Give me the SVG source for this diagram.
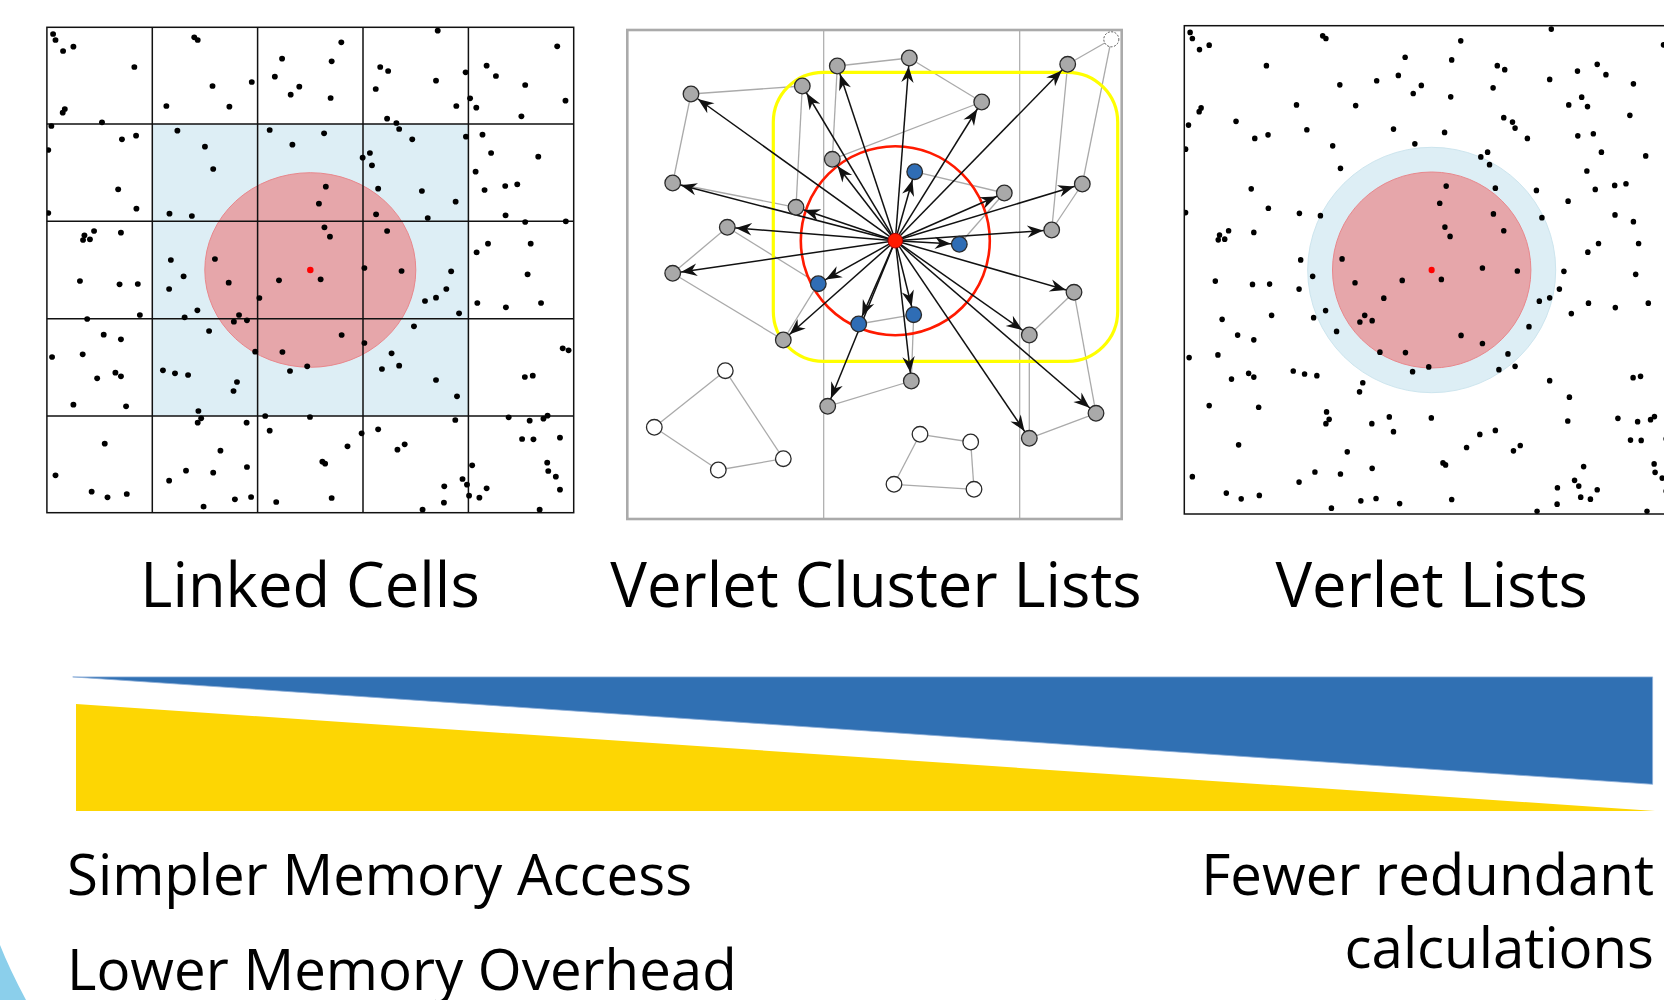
<svg xmlns="http://www.w3.org/2000/svg" width="1664" height="1000" viewBox="0 0 1664 1000">
<style>
.t{font-family:"Open Sans","Noto Sans","DejaVu Sans",sans-serif;fill:#000}
.title{font-size:61.5px;text-anchor:middle}
.lbl{font-size:56.4px}
.grid{stroke:#111;stroke-width:1.5;fill:none}
.nd{stroke:#2a2a2a;stroke-width:1.3}
.g{fill:#a9a9a9}
.b{fill:#2f6db5}
.w{fill:#fff}
.ed{stroke:#aaa;stroke-width:1.3;fill:none}
.ar{stroke:#111;stroke-width:1.5;marker-end:url(#ah)}
#particles circle{r:8.5px}
</style>
<defs>
<marker id="ah" viewBox="-18 -8 20 16" markerWidth="20" markerHeight="16" refX="8.5" refY="0" orient="auto" markerUnits="userSpaceOnUse">
<path d="M0,0 L-16,-6.2 L-11,0 L-16,6.2 Z" fill="#111"/>
</marker>
<clipPath id="c1"><rect x="46.9" y="27.3" width="526.8" height="485.4"/></clipPath>
<clipPath id="c3"><rect x="1184.3" y="25.7" width="480" height="488.3"/></clipPath>
<g id="particles" fill="#000">
<circle cx="38" cy="42" r="8.5"/><circle cx="45" cy="60" r="8.5"/><circle cx="67" cy="93" r="8.5"/><circle cx="97" cy="80" r="8.5"/><circle cx="274" cy="141" r="8.5"/><circle cx="72" cy="267" r="8.5"/><circle cx="66" cy="278" r="8.5"/><circle cx="180" cy="307" r="8.5"/>
<circle cx="448" cy="52" r="8.5"/><circle cx="458" cy="60" r="8.5"/><circle cx="501" cy="198" r="8.5"/><circle cx="615" cy="186" r="8.5"/><circle cx="367" cy="258" r="8.5"/><circle cx="550" cy="260" r="8.5"/>
<circle cx="875" cy="67" r="8.5"/><circle cx="703" cy="116" r="8.5"/><circle cx="847" cy="124" r="8.5"/><circle cx="682" cy="170" r="8.5"/><circle cx="753" cy="200" r="8.5"/><circle cx="728" cy="224" r="8.5"/><circle cx="844" cy="234" r="8.5"/>
<circle cx="1155" cy="32" r="8.5"/><circle cx="988" cy="141" r="8.5"/><circle cx="1011" cy="153" r="8.5"/><circle cx="1150" cy="182" r="8.5"/><circle cx="975" cy="207" r="8.5"/><circle cx="1209" cy="258" r="8.5"/><circle cx="1008" cy="296" r="8.5"/><circle cx="1035" cy="309" r="8.5"/>
<circle cx="1502" cy="79" r="8.5"/><circle cx="1297" cy="137" r="8.5"/><circle cx="1324" cy="168" r="8.5"/><circle cx="1236" cy="157" r="8.5"/><circle cx="1409" cy="195" r="8.5"/><circle cx="1526" cy="242" r="8.5"/><circle cx="1249" cy="235" r="8.5"/><circle cx="1267" cy="263" r="8.5"/><circle cx="1398" cy="289" r="8.5"/>
<circle cx="33" cy="318" r="8.5"/><circle cx="24" cy="390" r="8.5"/><circle cx="238" cy="358" r="8.5"/><circle cx="279" cy="347" r="8.5"/><circle cx="227" cy="508" r="8.5"/><circle cx="280" cy="566" r="8.5"/><circle cx="24" cy="579" r="8.5"/>
<circle cx="399" cy="332" r="8.5"/><circle cx="479" cy="380" r="8.5"/><circle cx="503" cy="447" r="8.5"/><circle cx="376" cy="581" r="8.5"/><circle cx="441" cy="588" r="8.5"/>
<circle cx="667" cy="330" r="8.5"/><circle cx="825" cy="340" r="8.5"/><circle cx="733" cy="374" r="8.5"/><circle cx="830" cy="500" r="8.5"/><circle cx="810" cy="551" r="8.5"/>
<circle cx="1043" cy="327" r="8.5"/><circle cx="1081" cy="358" r="8.5"/><circle cx="958" cy="399" r="8.5"/><circle cx="937" cy="413" r="8.5"/><circle cx="964" cy="436" r="8.5"/><circle cx="982" cy="506" r="8.5"/><circle cx="1109" cy="513" r="8.5"/><circle cx="1207" cy="545" r="8.5"/><circle cx="976" cy="583" r="8.5"/><circle cx="1126" cy="594" r="8.5"/><circle cx="1237" cy="350" r="8.5"/>
<circle cx="1285" cy="344" r="8.5"/><circle cx="1310" cy="399" r="8.5"/><circle cx="1447" cy="410" r="8.5"/><circle cx="1265" cy="455" r="8.5"/><circle cx="1291" cy="510" r="8.5"/><circle cx="1351" cy="498" r="8.5"/><circle cx="1386" cy="493" r="8.5"/><circle cx="1352" cy="586" r="8.5"/><circle cx="1409" cy="606" r="8.5"/><circle cx="1527" cy="604" r="8.5"/>
<circle cx="129" cy="646" r="8.5"/><circle cx="157" cy="633" r="8.5"/><circle cx="125" cy="660" r="8.5"/><circle cx="145" cy="658" r="8.5"/><circle cx="235" cy="638" r="8.5"/><circle cx="116" cy="783" r="8.5"/><circle cx="231" cy="793" r="8.5"/><circle cx="284" cy="792" r="8.5"/><circle cx="290" cy="885" r="8.5"/><circle cx="137" cy="897" r="8.5"/>
<circle cx="380" cy="720" r="8.5"/><circle cx="417" cy="769" r="8.5"/><circle cx="375" cy="807" r="8.5"/><circle cx="457" cy="871" r="8.5"/><circle cx="420" cy="892" r="8.5"/><circle cx="508" cy="717" r="8.5"/><circle cx="548" cy="788" r="8.5"/><circle cx="578" cy="885" r="8.5"/><circle cx="563" cy="905" r="8.5"/><circle cx="601" cy="901" r="8.5"/>
<circle cx="826" cy="622" r="8.5"/><circle cx="842" cy="650" r="8.5"/><circle cx="694" cy="781" r="8.5"/><circle cx="815" cy="778" r="8.5"/><circle cx="637" cy="834" r="8.5"/>
<circle cx="1008" cy="633" r="8.5"/><circle cx="942" cy="744" r="8.5"/><circle cx="1050" cy="753" r="8.5"/><circle cx="1194" cy="754" r="8.5"/><circle cx="1180" cy="807" r="8.5"/><circle cx="1150" cy="833" r="8.5"/><circle cx="1118" cy="843" r="8.5"/><circle cx="1217" cy="880" r="8.5"/>
<circle cx="1301" cy="671" r="8.5"/><circle cx="1425" cy="671" r="8.5"/><circle cx="1268" cy="697" r="8.5"/><circle cx="1416" cy="763" r="8.5"/><circle cx="1270" cy="849" r="8.5"/><circle cx="1353" cy="862" r="8.5"/><circle cx="1455" cy="849" r="8.5"/>
<circle cx="185" cy="944" r="8.5"/><circle cx="235" cy="958" r="8.5"/><circle cx="35" cy="1011" r="8.5"/><circle cx="124" cy="1003" r="8.5"/><circle cx="166" cy="1075" r="8.5"/><circle cx="219" cy="1058" r="8.5"/><circle cx="235" cy="1069" r="8.5"/><circle cx="97" cy="1154" r="8.5"/><circle cx="250" cy="1159" r="8.5"/>
<circle cx="491" cy="933" r="8.5"/><circle cx="357" cy="1051" r="8.5"/><circle cx="392" cy="1060" r="8.5"/><circle cx="430" cy="1065" r="8.5"/><circle cx="572" cy="1086" r="8.5"/><circle cx="562" cy="1113" r="8.5"/><circle cx="460" cy="1173" r="8.5"/>
<circle cx="625" cy="995" r="8.5"/><circle cx="704" cy="996" r="8.5"/><circle cx="876" cy="945" r="8.5"/><circle cx="726" cy="1053" r="8.5"/><circle cx="776" cy="1039" r="8.5"/><circle cx="654" cy="1188" r="8.5"/><circle cx="784" cy="1191" r="8.5"/>
<circle cx="942" cy="969" r="8.5"/><circle cx="1086" cy="919" r="8.5"/><circle cx="1021" cy="1000" r="8.5"/><circle cx="993" cy="1047" r="8.5"/><circle cx="1043" cy="1037" r="8.5"/><circle cx="1150" cy="1080" r="8.5"/><circle cx="1211" cy="1129" r="8.5"/>
<circle cx="1518" cy="985" r="8.5"/><circle cx="1535" cy="991" r="8.5"/><circle cx="1408" cy="1071" r="8.5"/><circle cx="1431" cy="1067" r="8.5"/>
<circle cx="188" cy="1271" r="8.5"/><circle cx="45" cy="1366" r="8.5"/><circle cx="150" cy="1415" r="8.5"/><circle cx="196" cy="1432" r="8.5"/><circle cx="252" cy="1422" r="8.5"/>
<circle cx="468" cy="1195" r="8.5"/><circle cx="458" cy="1208" r="8.5"/><circle cx="600" cy="1208" r="8.5"/><circle cx="524" cy="1292" r="8.5"/><circle cx="424" cy="1352" r="8.5"/><circle cx="503" cy="1358" r="8.5"/><circle cx="601" cy="1341" r="8.5"/><circle cx="375" cy="1382" r="8.5"/><circle cx="475" cy="1460" r="8.5"/><circle cx="566" cy="1438" r="8.5"/><circle cx="613" cy="1431" r="8.5"/>
<circle cx="667" cy="1232" r="8.5"/><circle cx="893" cy="1279" r="8.5"/><circle cx="820" cy="1325" r="8.5"/><circle cx="828" cy="1331" r="8.5"/><circle cx="686" cy="1446" r="8.5"/><circle cx="847" cy="1434" r="8.5"/><circle cx="934" cy="1240" r="8.5"/>
<circle cx="982" cy="1228" r="8.5"/><circle cx="1059" cy="1273" r="8.5"/><circle cx="1038" cy="1289" r="8.5"/><circle cx="1206" cy="1200" r="8.5"/><circle cx="1227" cy="1377" r="8.5"/><circle cx="1174" cy="1399" r="8.5"/><circle cx="1240" cy="1394" r="8.5"/><circle cx="1173" cy="1448" r="8.5"/><circle cx="1246" cy="1427" r="8.5"/><circle cx="1111" cy="1469" r="8.5"/>
<circle cx="1361" cy="1192" r="8.5"/><circle cx="1422" cy="1202" r="8.5"/><circle cx="1462" cy="1196" r="8.5"/><circle cx="1474" cy="1187" r="8.5"/><circle cx="1510" cy="1253" r="8.5"/><circle cx="1400" cy="1257" r="8.5"/><circle cx="1433" cy="1258" r="8.5"/><circle cx="1255" cy="1336" r="8.5"/><circle cx="1473" cy="1328" r="8.5"/><circle cx="1476" cy="1353" r="8.5"/><circle cx="1498" cy="1370" r="8.5"/><circle cx="1510" cy="1409" r="8.5"/><circle cx="1297" cy="1405" r="8.5"/><circle cx="1276" cy="1433" r="8.5"/><circle cx="1451" cy="1469" r="8.5"/>
<circle cx="785" cy="750" r="9.5" fill="#ff0000" style="r:9.5px"/>
</g>
</defs>
<rect width="1664" height="1000" fill="#fff"/>

<!-- Panel 1: Linked Cells -->
<g id="linked-cells">
<rect x="152.3" y="124" width="316.1" height="292" fill="#ddeef5"/>
<ellipse cx="310.3" cy="270" rx="105.5" ry="97.3" fill="#e6a6aa" stroke="#e8878c" stroke-width="1"/>
<g class="grid">
<rect x="46.9" y="27.3" width="526.8" height="485.4"/>
<path d="M152.3,27.3V512.7M257.6,27.3V512.7M363,27.3V512.7M468.4,27.3V512.7M46.9,124H573.7M46.9,221.3H573.7M46.9,318.7H573.7M46.9,416H573.7"/>
</g>
<g clip-path="url(#c1)"><use href="#particles" transform="matrix(0.34435 0 0 0.33333 40 20)"/></g>
</g>

<!-- Panel 3: Verlet Lists -->
<g id="verlet-lists">
<ellipse cx="1431.7" cy="270" rx="124" ry="122.7" fill="#ddeef5" stroke="#cde5ee" stroke-width="1"/>
<ellipse cx="1431.7" cy="270" rx="99.2" ry="98" fill="#e6a6aa" stroke="#e8878c" stroke-width="1"/>
<g clip-path="url(#c3)"><use href="#particles" transform="matrix(0.32335 0 0 0.33553 1177.82 18.35)"/></g>
<rect x="1184.3" y="25.7" width="500" height="488.3" fill="none" stroke="#111" stroke-width="1.5"/>
</g>

<!-- Panel 2: Verlet Cluster Lists -->
<g id="cluster-panel">
<rect x="627.3" y="30" width="494.4" height="489" fill="none" stroke="#aaa" stroke-width="2.6"/>
<path d="M823.7,30V519M1019.7,30V519" stroke="#aaa" stroke-width="1.2" fill="none"/>
</g>
<g id="connectors">
<g id="edges" class="ed">
<line x1="691" y1="94" x2="802.3" y2="86"/>
<line x1="691" y1="94" x2="672.7" y2="183"/>
<line x1="802.3" y1="86" x2="796" y2="207.3"/>
<line x1="672.7" y1="183" x2="796" y2="207.3"/>
<line x1="837.3" y1="66" x2="909.3" y2="58"/>
<line x1="837.3" y1="66" x2="832.3" y2="159.3"/>
<line x1="909.3" y1="58" x2="981.7" y2="102"/>
<line x1="981.7" y1="102" x2="832.3" y2="159.3"/>
<line x1="1067.7" y1="64.3" x2="1111.3" y2="39.3"/>
<line x1="1111.3" y1="39.3" x2="1082.3" y2="184"/>
<line x1="1067.7" y1="64.3" x2="1051.7" y2="230"/>
<line x1="1082.3" y1="184" x2="1051.7" y2="230"/>
<line x1="914.7" y1="171.7" x2="1004.3" y2="193"/>
<line x1="1004.3" y1="193" x2="959.3" y2="244.3"/>
<line x1="727.3" y1="227.3" x2="672.7" y2="273.3"/>
<line x1="727.3" y1="227.3" x2="818.3" y2="283.7"/>
<line x1="672.7" y1="273.3" x2="783.3" y2="340"/>
<line x1="818.3" y1="283.7" x2="783.3" y2="340"/>
<line x1="858.7" y1="324" x2="913.7" y2="314.7"/>
<line x1="913.7" y1="314.7" x2="911.3" y2="381"/>
<line x1="911.3" y1="381" x2="827.7" y2="406.3"/>
<line x1="1074" y1="292.3" x2="1029.3" y2="335"/>
<line x1="1074" y1="292.3" x2="1096" y2="413.3"/>
<line x1="1029.3" y1="335" x2="1029.3" y2="438.3"/>
<line x1="1029.3" y1="438.3" x2="1096" y2="413.3"/>
<line x1="725.3" y1="370.7" x2="654.3" y2="427.3"/>
<line x1="654.3" y1="427.3" x2="718.3" y2="470"/>
<line x1="718.3" y1="470" x2="783.3" y2="458.7"/>
<line x1="783.3" y1="458.7" x2="725.3" y2="370.7"/>
<line x1="920" y1="434.3" x2="970.7" y2="442"/>
<line x1="970.7" y1="442" x2="974" y2="489.3"/>
<line x1="974" y1="489.3" x2="894" y2="484.3"/>
<line x1="894" y1="484.3" x2="920" y2="434.3"/>
</g>
<rect id="cluster-bbox" x="773.3" y="72.3" width="344.4" height="289" rx="50" ry="50" fill="none" stroke="#ffff00" stroke-width="3.2"/>
<circle id="cutoff" cx="895.3" cy="240.7" r="94.5" fill="none" stroke="#ff1a00" stroke-width="2.6"/>
<g id="arrows" class="ar">
<line x1="895.3" y1="240.7" x2="691" y2="94"/>
<line x1="895.3" y1="240.7" x2="802.3" y2="86"/>
<line x1="895.3" y1="240.7" x2="837.3" y2="66"/>
<line x1="895.3" y1="240.7" x2="909.3" y2="58"/>
<line x1="895.3" y1="240.7" x2="981.7" y2="102"/>
<line x1="895.3" y1="240.7" x2="1067.7" y2="64.3"/>
<line x1="895.3" y1="240.7" x2="672.7" y2="183"/>
<line x1="895.3" y1="240.7" x2="796" y2="207.3"/>
<line x1="895.3" y1="240.7" x2="832.3" y2="159.3"/>
<line x1="895.3" y1="240.7" x2="1004.3" y2="193"/>
<line x1="895.3" y1="240.7" x2="1082.3" y2="184"/>
<line x1="895.3" y1="240.7" x2="727.3" y2="227.3"/>
<line x1="895.3" y1="240.7" x2="1051.7" y2="230"/>
<line x1="895.3" y1="240.7" x2="672.7" y2="273.3"/>
<line x1="895.3" y1="240.7" x2="1074" y2="292.3"/>
<line x1="895.3" y1="240.7" x2="783.3" y2="340"/>
<line x1="895.3" y1="240.7" x2="1029.3" y2="335"/>
<line x1="895.3" y1="240.7" x2="911.3" y2="381"/>
<line x1="895.3" y1="240.7" x2="827.7" y2="406.3"/>
<line x1="895.3" y1="240.7" x2="1029.3" y2="438.3"/>
<line x1="895.3" y1="240.7" x2="1096" y2="413.3"/>
<line x1="895.3" y1="240.7" x2="914.7" y2="171.7"/>
<line x1="895.3" y1="240.7" x2="959.3" y2="244.3"/>
<line x1="895.3" y1="240.7" x2="818.3" y2="283.7"/>
<line x1="895.3" y1="240.7" x2="858.7" y2="324"/>
<line x1="895.3" y1="240.7" x2="913.7" y2="314.7"/>
</g>
</g>
<g id="nodes">
<g id="g1"><circle class="nd g" cx="691" cy="94" r="7.8"/></g>
<g id="g2"><circle class="nd g" cx="802.3" cy="86" r="7.8"/></g>
<g id="g3"><circle class="nd g" cx="837.3" cy="66" r="7.8"/></g>
<g id="g4"><circle class="nd g" cx="909.3" cy="58" r="7.8"/></g>
<g id="g5"><circle class="nd g" cx="981.7" cy="102" r="7.8"/></g>
<g id="g6"><circle class="nd g" cx="1067.7" cy="64.3" r="7.8"/></g>
<g id="g7"><circle cx="1111.3" cy="39.3" r="7.5" fill="#fff" stroke="#555" stroke-width="1" stroke-dasharray="2 1.5"/></g>
<g id="g8"><circle class="nd g" cx="672.7" cy="183" r="7.8"/></g>
<g id="g9"><circle class="nd g" cx="796" cy="207.3" r="7.8"/></g>
<g id="g10"><circle class="nd g" cx="832.3" cy="159.3" r="7.8"/></g>
<g id="g11"><circle class="nd g" cx="1004.3" cy="193" r="7.8"/></g>
<g id="g12"><circle class="nd g" cx="1082.3" cy="184" r="7.8"/></g>
<g id="g13"><circle class="nd g" cx="727.3" cy="227.3" r="7.8"/></g>
<g id="g14"><circle class="nd g" cx="1051.7" cy="230" r="7.8"/></g>
<g id="g15"><circle class="nd g" cx="672.7" cy="273.3" r="7.8"/></g>
<g id="g16"><circle class="nd g" cx="1074" cy="292.3" r="7.8"/></g>
<g id="g17"><circle class="nd g" cx="783.3" cy="340" r="7.8"/></g>
<g id="g18"><circle class="nd g" cx="1029.3" cy="335" r="7.8"/></g>
<g id="g19"><circle class="nd g" cx="911.3" cy="381" r="7.8"/></g>
<g id="g20"><circle class="nd g" cx="827.7" cy="406.3" r="7.8"/></g>
<g id="g21"><circle class="nd g" cx="1029.3" cy="438.3" r="7.8"/></g>
<g id="g22"><circle class="nd g" cx="1096" cy="413.3" r="7.8"/></g>
<g id="b1"><circle class="nd b" cx="914.7" cy="171.7" r="7.8"/></g>
<g id="b2"><circle class="nd b" cx="959.3" cy="244.3" r="7.8"/></g>
<g id="b3"><circle class="nd b" cx="818.3" cy="283.7" r="7.8"/></g>
<g id="b4"><circle class="nd b" cx="858.7" cy="324" r="7.8"/></g>
<g id="b5"><circle class="nd b" cx="913.7" cy="314.7" r="7.8"/></g>
<g id="w1"><circle class="nd w" cx="725.3" cy="370.7" r="7.8"/></g>
<g id="w2"><circle class="nd w" cx="654.3" cy="427.3" r="7.8"/></g>
<g id="w3"><circle class="nd w" cx="718.3" cy="470" r="7.8"/></g>
<g id="w4"><circle class="nd w" cx="783.3" cy="458.7" r="7.8"/></g>
<g id="w5"><circle class="nd w" cx="920" cy="434.3" r="7.8"/></g>
<g id="w6"><circle class="nd w" cx="970.7" cy="442" r="7.8"/></g>
<g id="w7"><circle class="nd w" cx="894" cy="484.3" r="7.8"/></g>
<g id="w8"><circle class="nd w" cx="974" cy="489.3" r="7.8"/></g>
<g id="center"><circle cx="895.3" cy="240.7" r="7.3" fill="#ff1a00" stroke="#b00000" stroke-width="1"/></g>
</g>

<!-- Titles -->
<text class="t title" x="310" y="606.7">Linked Cells</text>
<text class="t title" x="876" y="606.7">Verlet Cluster Lists</text>
<text class="t title" x="1431.7" y="606.7">Verlet Lists</text>

<!-- Trade-off bars -->
<g id="bars">
<polygon points="72.7,676.9 1652.6,676.9 1652.6,784.3" fill="#3070b3" stroke="#8fb0d9" stroke-width="0.8"/>
<polygon points="76,704 1655,810.9 76,810.9" fill="#fdd603"/>
</g>

<text class="t lbl" x="67" y="895">Simpler Memory Access</text>
<text class="t lbl" x="67" y="990">Lower Memory Overhead</text>
<text class="t lbl" x="1654" y="895" text-anchor="end">Fewer redundant</text>
<text class="t lbl" x="1654" y="968.3" text-anchor="end">calculations</text>

<path d="M0,945 Q9,968 26,1000 L0,1000 Z" fill="#8bcfeb"/>
</svg>
